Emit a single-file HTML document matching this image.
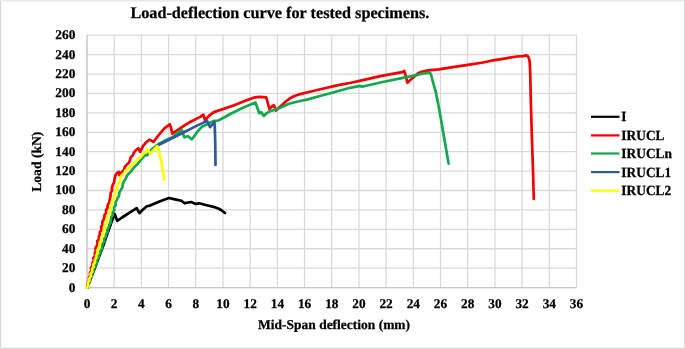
<!DOCTYPE html>
<html><head><meta charset="utf-8"><title>Load-deflection curve</title>
<style>
html,body{margin:0;padding:0;background:#fff;}
body{width:685px;height:349px;overflow:hidden;}
svg{display:block;font-family:"Liberation Serif",serif;font-weight:bold;fill:#000;text-rendering:geometricPrecision;}
text{stroke:#000;stroke-width:0.25px;}
.grid line{stroke:#d9d9d9;stroke-width:1.3;}
.curve{fill:none;stroke-width:2.7;stroke-linejoin:round;stroke-linecap:round;}
.xt text{font-size:13.3px;text-anchor:middle;}
.yt text{font-size:13.3px;text-anchor:end;}
.leg text{font-size:14px;}
</style></head>
<body>
<svg width="685" height="349" viewBox="0 0 685 349">
<rect x="0" y="0" width="685" height="349" fill="#ffffff"/>
<rect x="0" y="0" width="685" height="1" fill="#e9e9e9"/>
<rect x="0" y="1" width="685" height="1" fill="#f0f0f0"/>
<rect x="0" y="1" width="1" height="348" fill="#d8d8d8"/>
<rect x="1" y="1" width="1" height="347" fill="#f6f6f6"/>
<rect x="0" y="347" width="685" height="1" fill="#f1f1f1"/>
<rect x="0" y="348" width="685" height="1" fill="#d9d9d9"/>
<rect x="684" y="1" width="1" height="348" fill="#dcdcdc"/>
<g class="grid"><line x1="87.00" y1="35.20" x2="87.00" y2="287.60"/><line x1="114.19" y1="35.20" x2="114.19" y2="287.60"/><line x1="141.39" y1="35.20" x2="141.39" y2="287.60"/><line x1="168.58" y1="35.20" x2="168.58" y2="287.60"/><line x1="195.78" y1="35.20" x2="195.78" y2="287.60"/><line x1="222.97" y1="35.20" x2="222.97" y2="287.60"/><line x1="250.17" y1="35.20" x2="250.17" y2="287.60"/><line x1="277.36" y1="35.20" x2="277.36" y2="287.60"/><line x1="304.56" y1="35.20" x2="304.56" y2="287.60"/><line x1="331.75" y1="35.20" x2="331.75" y2="287.60"/><line x1="358.94" y1="35.20" x2="358.94" y2="287.60"/><line x1="386.14" y1="35.20" x2="386.14" y2="287.60"/><line x1="413.33" y1="35.20" x2="413.33" y2="287.60"/><line x1="440.53" y1="35.20" x2="440.53" y2="287.60"/><line x1="467.72" y1="35.20" x2="467.72" y2="287.60"/><line x1="494.92" y1="35.20" x2="494.92" y2="287.60"/><line x1="522.11" y1="35.20" x2="522.11" y2="287.60"/><line x1="549.31" y1="35.20" x2="549.31" y2="287.60"/><line x1="576.50" y1="35.20" x2="576.50" y2="287.60"/><line x1="87.00" y1="35.20" x2="576.50" y2="35.20"/><line x1="87.00" y1="54.62" x2="576.50" y2="54.62"/><line x1="87.00" y1="74.03" x2="576.50" y2="74.03"/><line x1="87.00" y1="93.45" x2="576.50" y2="93.45"/><line x1="87.00" y1="112.86" x2="576.50" y2="112.86"/><line x1="87.00" y1="132.28" x2="576.50" y2="132.28"/><line x1="87.00" y1="151.69" x2="576.50" y2="151.69"/><line x1="87.00" y1="171.11" x2="576.50" y2="171.11"/><line x1="87.00" y1="190.52" x2="576.50" y2="190.52"/><line x1="87.00" y1="209.94" x2="576.50" y2="209.94"/><line x1="87.00" y1="229.35" x2="576.50" y2="229.35"/><line x1="87.00" y1="248.77" x2="576.50" y2="248.77"/><line x1="87.00" y1="268.18" x2="576.50" y2="268.18"/><line x1="87.00" y1="287.60" x2="576.50" y2="287.60"/></g>
<line x1="87.0" y1="287.6" x2="576.5" y2="287.6" stroke="#c6c6c6" stroke-width="1.3"/><line x1="87.0" y1="35.2" x2="87.0" y2="287.6" stroke="#cdcdcd" stroke-width="1.3"/>
<polyline class="curve" stroke="#000000" points="87.4,287.6 103.1,246.0 111.5,222.0 114.6,213.9 115.8,217.0 117.2,220.8 122.0,217.5 130.0,212.3 136.7,208.2 138.0,210.5 139.5,213.2 142.5,210.0 146.8,206.3 150.0,205.6 159.5,201.4 168.9,198.0 175.0,199.4 181.5,200.8 184.7,203.3 188.0,202.5 191.0,202.0 193.5,203.0 196.0,203.9 199.2,203.3 206.7,205.2 215.6,207.4 219.4,209.0 222.0,210.7 225.0,213.0"/>
<polyline class="curve" stroke="#f40000" points="87.0,287.6 87.9,285.2 87.5,282.6 89.3,280.4 88.9,277.7 90.3,275.5 89.9,272.8 91.5,270.6 90.9,267.9 92.4,265.6 92.4,263.1 93.9,260.8 93.3,258.1 95.0,255.9 94.7,253.3 95.9,251.0 95.4,248.3 96.6,246.0 97.6,243.7 97.1,241.1 99.1,239.1 98.8,236.6 99.9,234.3 99.8,231.8 101.6,229.8 101.0,227.1 102.4,225.0 102.2,222.4 103.3,220.2 104.3,217.8 104.5,215.0 106.1,212.8 106.0,210.0 107.6,207.7 107.7,204.9 109.2,202.6 109.6,200.0 110.5,196.0 110.6,193.2 112.0,190.6 111.9,187.7 112.7,185.0 114.2,182.2 114.5,179.0 115.3,175.8 117.1,173.0 119.0,171.8 119.6,175.5 122.1,171.8 124.1,169.8 124.7,167.0 126.5,164.8 128.9,162.8 130.1,160.0 130.8,157.2 132.9,155.2 133.9,152.6 136.0,150.0 138.3,148.2 140.2,151.9 143.3,145.6 146.5,142.0 149.6,139.7 153.4,141.9 157.8,136.2 164.1,128.6 169.8,124.2 170.8,127.0 172.3,133.7 180.5,128.0 190.6,121.7 200.7,116.6 203.2,114.6 204.0,116.5 205.1,120.3 208.9,115.9 213.9,112.1 232.8,105.8 245.4,100.7 254.9,97.3 260.0,96.8 266.2,97.3 267.8,103.0 269.4,108.9 271.5,106.8 273.8,105.1 275.0,108.0 276.0,110.6 279.0,107.5 282.6,104.5 286.0,101.3 290.2,98.2 294.5,96.0 299.0,94.4 309.0,92.0 320.4,89.3 339.4,84.9 350.0,83.0 365.1,79.6 381.5,75.9 402.3,72.1 404.2,70.8 405.5,75.0 407.4,82.8 410.0,80.3 413.0,77.7 418.1,73.3 421.5,71.8 425.7,70.8 430.0,70.1 438.9,69.4 451.0,67.3 467.9,64.8 483.1,62.5 491.4,60.7 506.0,58.3 516.7,56.5 523.0,56.1 526.1,55.4 527.6,56.0 528.6,57.7 529.3,59.5 529.7,62.0 530.2,72.0 530.8,100.0 531.8,135.0 533.0,170.0 533.8,199.0"/>
<polyline class="curve" stroke="#12a84f" points="87.2,287.6 88.3,285.4 88.5,282.8 90.1,280.8 90.2,278.2 91.8,276.2 92.1,273.7 93.3,271.5 93.5,268.9 95.1,266.9 95.4,264.4 97.1,262.4 97.0,259.7 98.7,257.7 98.7,255.1 100.3,253.1 100.5,250.5 102.0,248.5 102.4,246.0 102.6,243.5 104.3,241.4 104.2,238.8 105.9,236.8 106.0,234.2 107.5,232.1 107.4,229.4 108.9,227.3 109.1,224.8 110.6,222.7 110.8,220.2 111.2,217.6 112.8,215.3 112.6,212.5 114.3,210.2 114.0,207.4 115.7,205.2 115.6,202.4 116.8,200.0 117.7,198.0 119.1,195.5 119.3,192.5 120.9,190.0 122.5,187.2 122.7,184.1 124.0,181.2 125.7,178.8 126.7,176.1 128.4,173.7 131.1,171.5 133.0,168.5 137.9,163.6 142.0,158.5 145.0,155.0 147.1,155.3 149.5,152.0 153.0,148.3 157.8,144.5 166.7,139.7 173.0,136.9 181.8,129.9 183.0,133.5 184.3,137.4 186.0,136.8 188.1,136.2 190.0,138.0 191.9,139.3 194.0,136.5 196.9,132.4 202.0,126.7 206.0,124.8 210.0,122.8 213.9,120.9 218.3,120.5 224.0,117.5 230.3,114.0 242.9,107.7 255.5,102.6 257.2,107.5 259.3,113.3 261.2,112.1 262.5,114.0 263.7,115.9 266.5,113.3 269.4,111.4 275.7,109.5 277.6,108.9 288.9,103.8 298.0,101.5 307.8,99.4 320.0,96.0 333.0,92.5 350.0,87.8 360.1,85.9 362.0,86.8 381.5,82.2 400.4,78.4 413.0,75.9 424.4,73.3 430.1,72.7 431.3,75.5 433.2,82.8 436.0,92.9 439.0,108.0 444.0,137.0 448.6,163.6"/>
<polyline class="curve" stroke="#31589a" points="158.5,145.0 170.0,139.2 185.0,131.7 195.0,126.6 207.0,120.9 208.5,124.0 210.1,127.2 212.3,124.5 214.5,122.2 214.8,128.0 215.2,140.0 215.5,165.0"/>
<polyline class="curve" stroke="#ffff00" points="87.0,287.6 88.4,285.5 87.7,282.8 89.3,280.7 89.4,278.3 91.0,276.2 90.5,273.6 92.3,271.6 92.0,269.0 93.6,267.0 93.2,264.3 95.0,262.3 94.8,259.8 96.3,257.7 96.1,255.1 97.8,253.1 97.1,250.4 99.2,248.5 99.2,246.0 99.4,243.5 101.1,241.4 101.0,238.9 102.3,236.7 102.5,234.2 103.9,232.1 103.8,229.5 105.3,227.4 104.9,224.7 106.8,222.7 107.0,220.2 107.2,217.5 108.9,215.3 109.0,212.6 110.4,210.2 110.4,207.5 112.0,205.2 111.5,202.3 113.0,200.0 114.3,197.9 114.2,195.2 115.9,193.2 115.4,190.5 117.4,188.5 116.9,185.8 118.3,183.7 120.1,181.0 120.2,177.6 122.1,174.9 124.3,173.3 125.4,170.6 127.8,169.2 135.4,161.7 141.7,156.0 147.1,149.4 148.7,151.5 150.3,153.8 153.5,150.0 157.2,146.3 158.0,148.0 159.2,153.0 161.0,160.0 164.4,179.7"/>
<text id="title" x="130.4" y="18.2" font-size="16.2" textLength="299" lengthAdjust="spacingAndGlyphs">Load-deflection curve for tested specimens.</text>
<g class="xt"><text x="87.0" y="308">0</text><text x="114.2" y="308">2</text><text x="141.4" y="308">4</text><text x="168.6" y="308">6</text><text x="195.8" y="308">8</text><text x="223.0" y="308">10</text><text x="250.2" y="308">12</text><text x="277.4" y="308">14</text><text x="304.6" y="308">16</text><text x="331.8" y="308">18</text><text x="358.9" y="308">20</text><text x="386.1" y="308">22</text><text x="413.3" y="308">24</text><text x="440.5" y="308">26</text><text x="467.7" y="308">28</text><text x="494.9" y="308">30</text><text x="522.1" y="308">32</text><text x="549.3" y="308">34</text><text x="576.5" y="308">36</text></g>
<g class="yt"><text x="75.3" y="39.1">260</text><text x="75.3" y="58.5">240</text><text x="75.3" y="77.9">220</text><text x="75.3" y="97.3">200</text><text x="75.3" y="116.8">180</text><text x="75.3" y="136.2">160</text><text x="75.3" y="155.6">140</text><text x="75.3" y="175.0">120</text><text x="75.3" y="194.4">100</text><text x="75.3" y="213.8">80</text><text x="75.3" y="233.3">60</text><text x="75.3" y="252.7">40</text><text x="75.3" y="272.1">20</text><text x="75.3" y="291.5">0</text></g>
<text id="xtitle" x="258.1" y="329" font-size="13.5" textLength="152" lengthAdjust="spacingAndGlyphs">Mid-Span deflection (mm)</text>
<text id="ytitle" transform="translate(40.6,191.8) rotate(-90)" font-size="13.6" textLength="60.2" lengthAdjust="spacingAndGlyphs">Load (kN)</text>
<g class="leg"><line x1="591" y1="116.8" x2="619.5" y2="116.8" stroke="#000000" stroke-width="2.2"/><text transform="translate(621.3,121.4) scale(0.958,1)">I</text><line x1="591" y1="135.4" x2="619.5" y2="135.4" stroke="#f40000" stroke-width="2.2"/><text transform="translate(621.3,140.0) scale(0.958,1)">IRUCL</text><line x1="591" y1="153.5" x2="619.5" y2="153.5" stroke="#12a84f" stroke-width="2.2"/><text transform="translate(621.3,158.1) scale(0.958,1)">IRUCLn</text><line x1="591" y1="172.1" x2="619.5" y2="172.1" stroke="#31589a" stroke-width="2.2"/><text transform="translate(621.3,176.7) scale(0.958,1)">IRUCL1</text><line x1="591" y1="190.7" x2="619.5" y2="190.7" stroke="#ffff00" stroke-width="2.2"/><text transform="translate(621.3,195.3) scale(0.958,1)">IRUCL2</text></g>
</svg>
</body></html>
